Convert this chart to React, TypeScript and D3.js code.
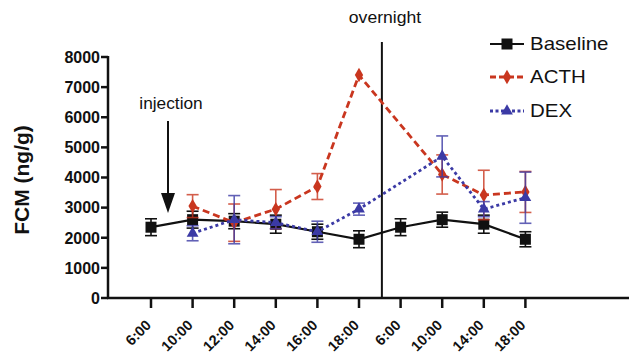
import React from "react";
import * as d3 from "d3";

const timeLabels = ["6:00", "10:00", "12:00", "14:00", "16:00", "18:00", "6:00", "10:00", "14:00", "18:00"];
const yTicks = [0, 1000, 2000, 3000, 4000, 5000, 6000, 7000, 8000];

const baselineMean = [2350, 2600, 2550, 2450, 2200, 1950, 2350, 2600, 2450, 1950];
const baselineErr = [280, 280, 250, 300, 250, 280, 280, 250, 300, 250];

const acthMean = [null, 3050, 2500, 2950, 3700, 7400, null, 4100, 3420, 3520];
const acthErr = [null, 380, 620, 650, 430, 0, null, 650, 820, 680];

const dexMean = [null, 2150, 2600, 2500, 2200, 2950, null, 4700, 2950, 3330];
const dexErr = [null, 250, 800, 200, 350, 200, null, 680, 250, 850];

const series = [
  { name: "Baseline", mean: baselineMean, err: baselineErr, color: "#111111", dash: "none", legendDash: "none", width: 2.2, marker: "square" },
  { name: "ACTH", mean: acthMean, err: acthErr, color: "#c9361f", dash: "7,4", legendDash: "6,3", width: 2.8, marker: "diamond" },
  { name: "DEX", mean: dexMean, err: dexErr, color: "#3b3aa5", dash: "3,3", legendDash: "3,2.5", width: 2.8, marker: "triangle" },
];

const FONT = "Liberation Sans, Arial, Helvetica, sans-serif";

function Marker({ type, x, y, color }: { type: string; x: number; y: number; color: string }) {
  if (type === "square") return <rect x={x - 5.5} y={y - 5.5} width={11} height={11} fill={color} />;
  if (type === "diamond") {
    const p = d3.symbol(d3.symbolDiamond, 60)();
    return <path d={p || ""} transform={`translate(${x},${y})`} fill={color} />;
  }
  const p = d3.symbol(d3.symbolTriangle, 60)();
  return <path d={p || ""} transform={`translate(${x},${y})`} fill={color} />;
}

export default function App() {
  const W = 629, H = 358;
  const x = d3.scaleLinear().domain([0, 9]).range([151, 525.4]);
  const y = d3.scaleLinear().domain([0, 8000]).range([298, 57]);
  const x0 = 108;

  return (
    <svg width={W} height={H} style={{ position: "absolute", left: 0, top: 0, background: "#fff" }} fontFamily={FONT}>
      {/* overnight line */}
      <line x1={x(5.55)} x2={x(5.55)} y1={42} y2={298} stroke="#111" strokeWidth={2} />
      <text transform="translate(385,23) scale(1.1,1)" fontSize={16} textAnchor="middle" fill="#111">overnight</text>

      {/* injection arrow */}
      <text transform="translate(171,109) scale(1.08,1)" fontSize={16} textAnchor="middle" fill="#111">injection</text>
      <line x1={168} x2={168} y1={121} y2={196} stroke="#111" strokeWidth={2} />
      <path d={`M161,193 L175,193 L168,213 Z`} fill="#111" />

      {/* series */}
      {series.map((s) => {
        const pts = s.mean.map((v, i) => ({ i, v }));
        const defined = pts.filter((p) => p.v !== null) as { i: number; v: number }[];
        const line = d3.line<{ i: number; v: number }>().x((d) => x(d.i)).y((d) => y(d.v));
        return (
          <g key={s.name}>
            <path d={line(defined) || ""} fill="none" stroke={s.color} strokeWidth={s.width} strokeDasharray={s.dash} />
            {defined.map((p) => {
              const e = (s.err[p.i] as number) || 0;
              if (!e) return null;
              const cx = x(p.i);
              return (
                <g key={p.i} stroke={s.color} strokeWidth={1.6} opacity={s.name === "Baseline" ? 1 : 0.8}>
                  <line x1={cx} x2={cx} y1={y(p.v + e)} y2={y(p.v - e)} />
                  <line x1={cx - 6} x2={cx + 6} y1={y(p.v + e)} y2={y(p.v + e)} />
                  <line x1={cx - 6} x2={cx + 6} y1={y(p.v - e)} y2={y(p.v - e)} />
                </g>
              );
            })}
            {defined.map((p) => (
              <Marker key={"m" + p.i} type={s.marker} x={x(p.i)} y={y(p.v)} color={s.color} />
            ))}
          </g>
        );
      })}

      {/* axes */}
      <line x1={x0} x2={x0} y1={56} y2={299} stroke="#111" strokeWidth={2.5} />
      <line x1={x0 - 1} x2={629} y1={298} y2={298} stroke="#111" strokeWidth={2.5} />
      {yTicks.map((t) => (
        <g key={t}>
          <line x1={x0 - 7} x2={x0} y1={y(t)} y2={y(t)} stroke="#111" strokeWidth={2.5} />
          <text x={x0 - 8} y={y(t)} dy="0.36em" fontSize={16} fontWeight="bold" textAnchor="end" fill="#111">{t}</text>
        </g>
      ))}
      {timeLabels.map((t, i) => (
        <g key={i}>
          <line x1={x(i)} x2={x(i)} y1={298} y2={308} stroke="#111" strokeWidth={2.5} />
          <text transform={`translate(${x(i) + 1},${326}) rotate(-45)`} fontSize={14.5} fontWeight="bold" textAnchor="end" fill="#111">{t}</text>
        </g>
      ))}
      <text transform={`translate(29,180) rotate(-90)`} fontSize={21} fontWeight="bold" textAnchor="middle" fill="#111">FCM (ng/g)</text>

      {/* legend */}
      {series.map((s, k) => {
        const ly = [44, 77, 111][k];
        return (
          <g key={"lg" + s.name}>
            <line x1={490} x2={524} y1={ly} y2={ly} stroke={s.color} strokeWidth={s.width} strokeDasharray={s.legendDash} />
            <Marker type={s.marker} x={507} y={ly} color={s.color} />
            <text transform={`translate(530,${ly}) scale(1.17,1)`} dy="0.36em" fontSize={17.5} fill="#111">{s.name}</text>
          </g>
        );
      })}
    </svg>
  );
}
